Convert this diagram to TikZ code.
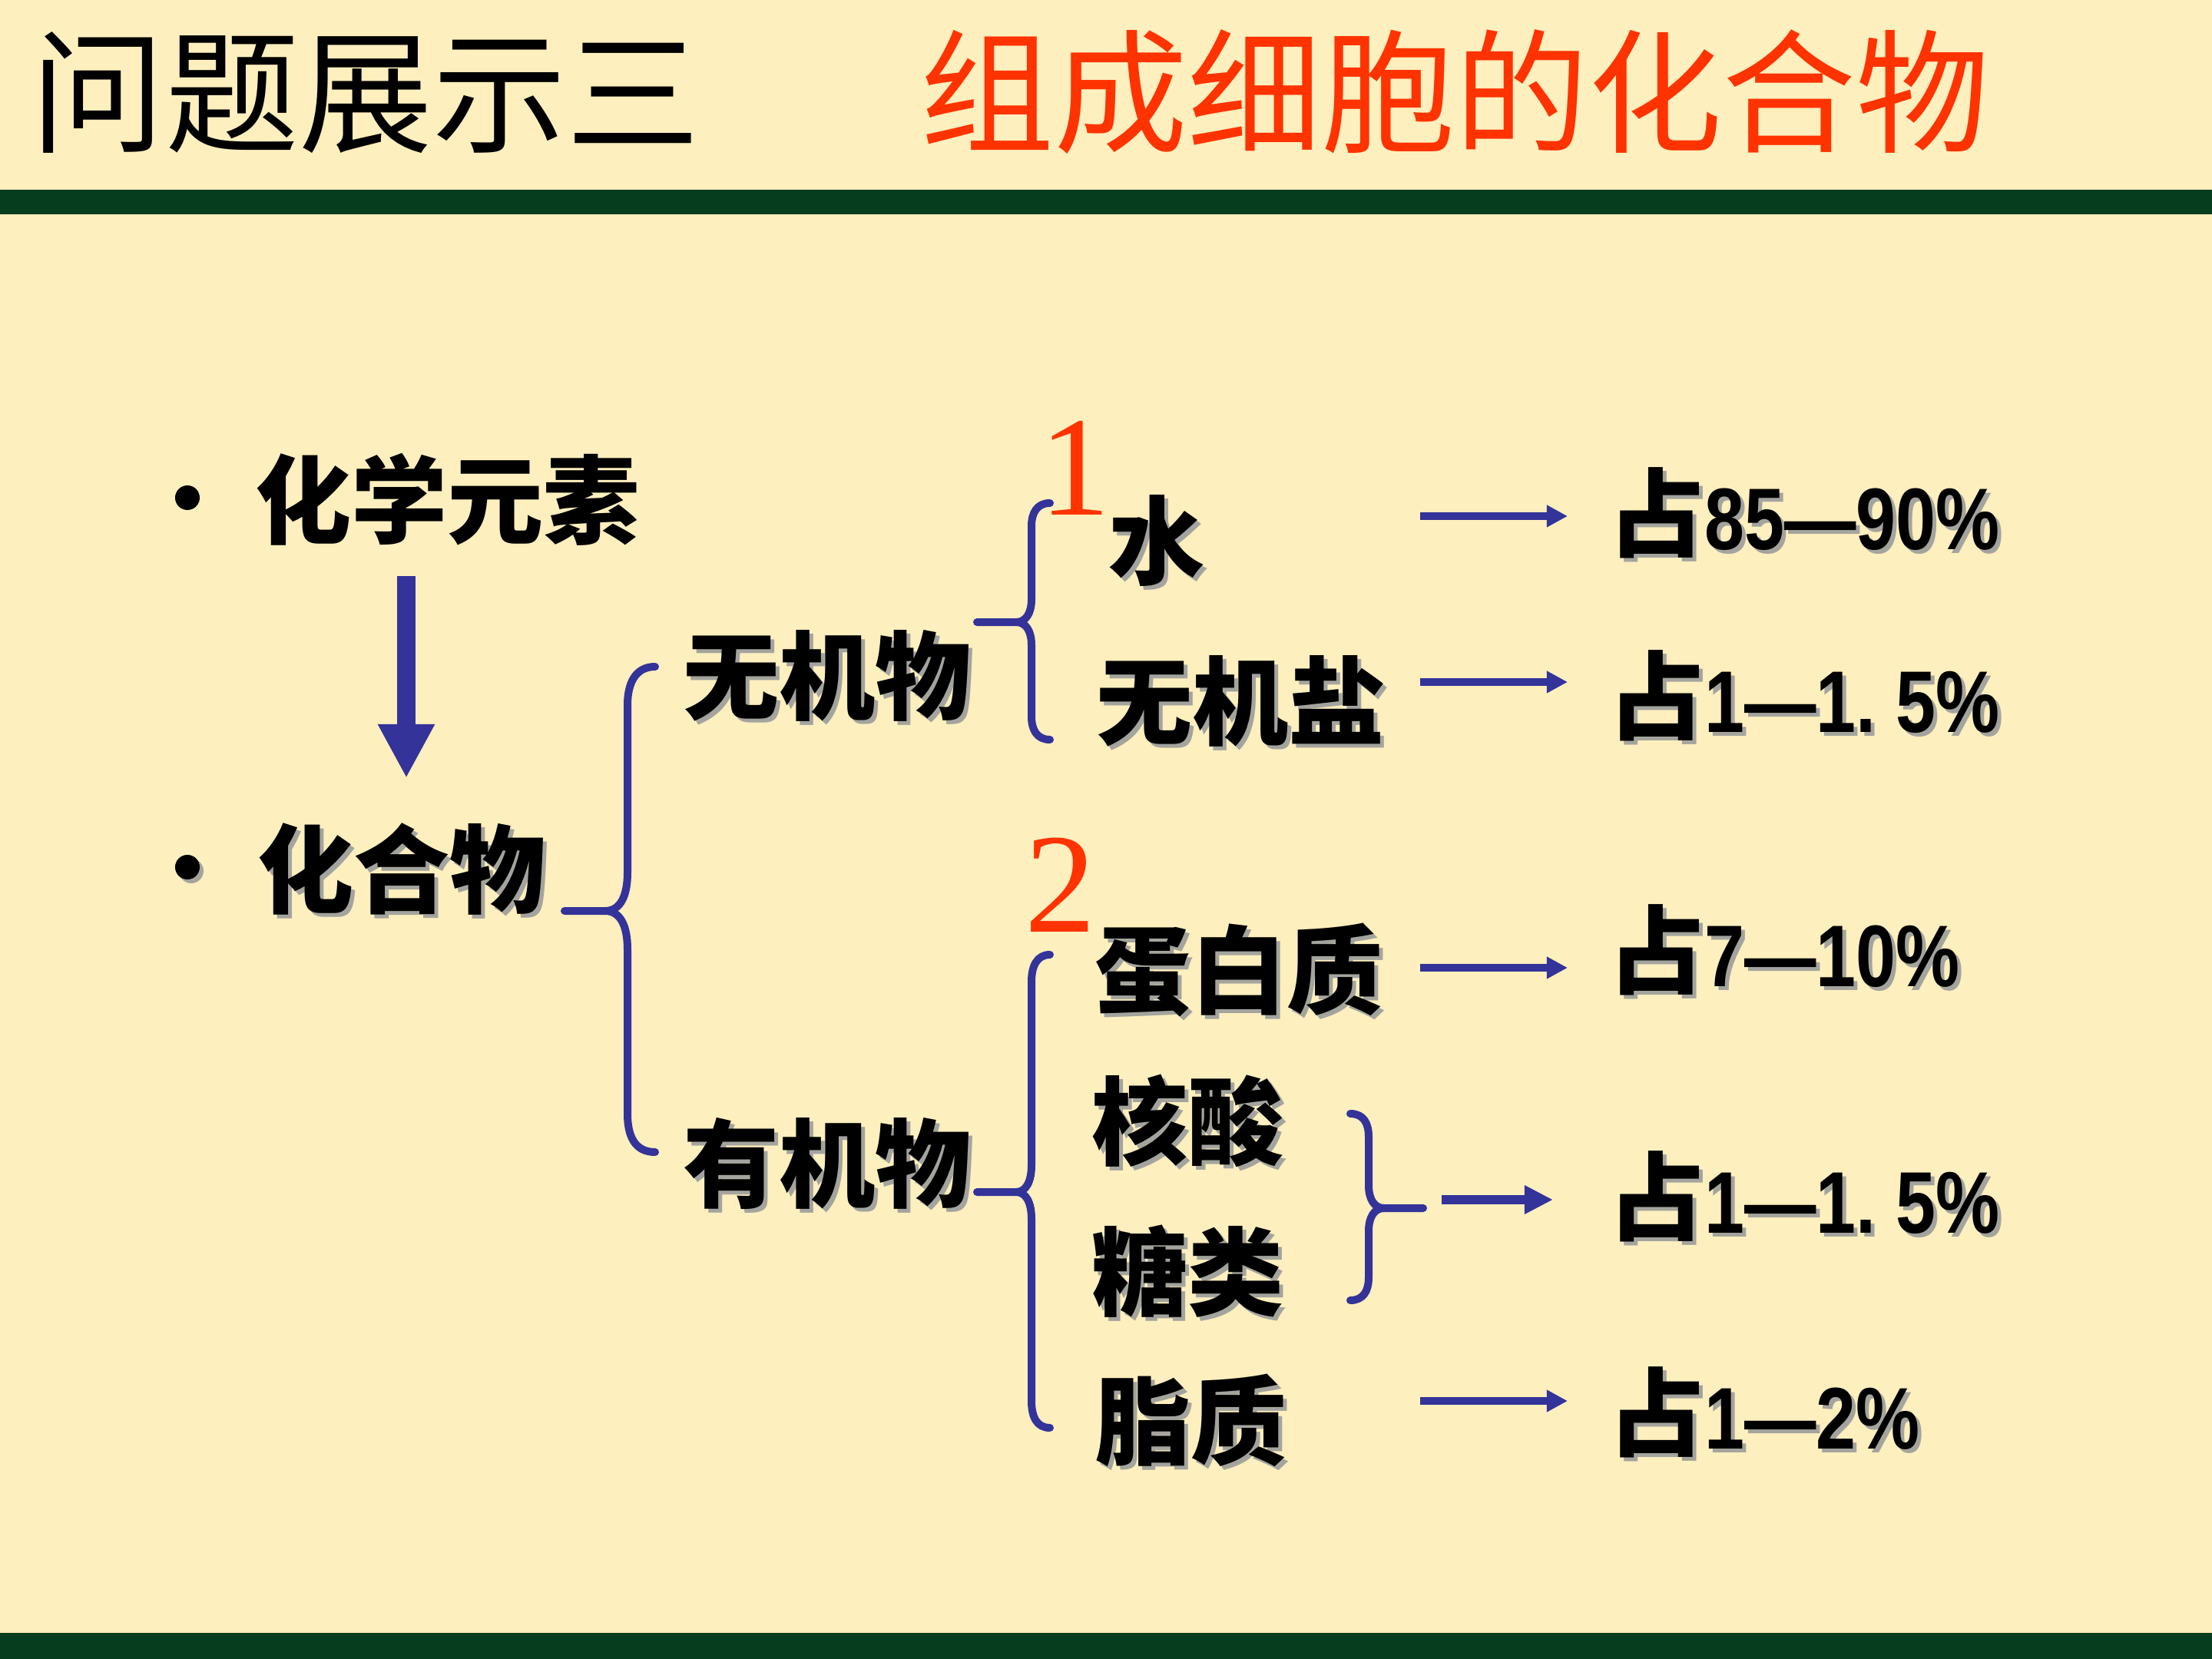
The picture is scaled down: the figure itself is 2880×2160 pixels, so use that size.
\documentclass[tikz,border=0pt]{standalone}
\usepackage{fontspec}
\usepackage{graphicx}
\newfontfamily\cjk{Noto Sans CJK SC}
\newfontfamily\numf{Liberation Sans}
\newfontfamily\serf{Liberation Serif}
\usetikzlibrary{arrows.meta}
\definecolor{bg}{HTML}{FDEFBE}
\definecolor{bar}{HTML}{063D1E}
\definecolor{navy}{HTML}{333399}
\definecolor{tred}{HTML}{FF3300}
\definecolor{shadowc}{HTML}{A4A49E}
\newcommand\shnode[4]{%
  \node[#1,text=shadowc,xshift=0.05cm,yshift=-0.05cm] at #3 {#4};
  \node[#1] (#2) at #3 {#4};}
\newcommand\pct[1]{{\cjk 占}{\numf\fontsize{32.4pt}{36pt}\selectfont\scalebox{0.82}[1]{#1}}}
\begin{document}
\begin{tikzpicture}[x=0.01cm,y=-0.01cm,
  body/.style={inner sep=0pt,outer sep=0pt,anchor=base west,text=black,
    font=\cjk\bfseries\fontsize{35.6pt}{40pt}\selectfont},
  ttl/.style={inner sep=0pt,outer sep=0pt,anchor=base west,
    font=\cjk\fontsize{49.5pt}{54pt}\selectfont},
  num/.style={inner sep=0pt,outer sep=0pt,anchor=base west,text=tred,
    font=\serf\fontsize{52.6pt}{56pt}\selectfont},
  brace/.style={draw=navy,line width=0.1cm,line cap=round,line join=round},
  thinarrow/.style={draw=navy,line width=0.1cm,-{Triangle[length=0.27cm,width=0.27cm]}},
  midarrow/.style={draw=navy,line width=0.12cm,-{Triangle[length=0.37cm,width=0.35cm]}},
  bigarrow/.style={draw=navy,line width=0.23cm,-{Triangle[length=0.7cm,width=0.69cm]}},
  dot/.style={circle,inner sep=0pt,minimum size=0.32cm}]
% background and bars
\fill[bg] (0,0) rectangle (2880,2160);
\useasboundingbox (0,0) rectangle (2880,2160);
\fill[bar] (0,247) rectangle (2880,279);
\fill[bar] (0,2126) rectangle (2880,2160);
% titles
\node[ttl,text=black] (t1) at (41,185) {问题展示三};
\node[ttl,text=tred] (t2) at (1198,185) {组成细胞的化合物};
% left column
\node[dot,fill=black] (b1) at (244,648) {};
\node[body] (elem) at (332,698) {化学元素};
\node[dot,fill=shadowc] at (249,1134) {};
\node[dot,fill=black] (b2) at (244,1129) {};
\shnode{body}{comp}{(335,1179)}{化合物}
\coordinate (va) at (529,750);
\coordinate (vb) at (529,1013);
\draw[bigarrow] (va) -- (vb);
% second column
\shnode{body}{inorg}{(889,927)}{无机物}
\shnode{body}{org}{(889,1562)}{有机物}
% big brace
\draw[brace] (853,868) .. controls (827,868) and (817,890) .. (817,918) -- (817,1136)
  .. controls (817,1166) and (808,1186) .. (788,1186) -- (735,1186);
\draw[brace] (788,1186) .. controls (808,1186) and (817,1206) .. (817,1236) -- (817,1450)
  .. controls (817,1480) and (827,1500) .. (853,1500);
% brace inorganic
\draw[brace] (1367,655) .. controls (1350,655) and (1343,668) .. (1343,685) -- (1343,780)
  .. controls (1343,798) and (1336,810) .. (1323,810) -- (1272,810);
\draw[brace] (1323,810) .. controls (1336,810) and (1343,822) .. (1343,840) -- (1343,933)
  .. controls (1343,950) and (1350,963) .. (1367,963);
% brace organic
\draw[brace] (1367,1243) .. controls (1350,1243) and (1343,1258) .. (1343,1278) -- (1343,1517)
  .. controls (1343,1538) and (1336,1552) .. (1323,1552) -- (1272,1552);
\draw[brace] (1323,1552) .. controls (1336,1552) and (1343,1566) .. (1343,1587) -- (1343,1824)
  .. controls (1343,1845) and (1350,1859) .. (1367,1859);
% small right brace
\draw[brace] (1758,1450) .. controls (1775,1450) and (1782,1462) .. (1782,1480) -- (1782,1543)
  .. controls (1782,1561) and (1789,1573) .. (1802,1573) -- (1853,1573);
\draw[brace] (1802,1573) .. controls (1789,1573) and (1782,1585) .. (1782,1603) -- (1782,1663)
  .. controls (1782,1681) and (1775,1693) .. (1758,1693);
% red numbers
\node[num] (n1) at (1353,670) {1};
\node[num] (n2) at (1334,1213) {2};
% third column
\shnode{body}{water}{(1443,751)}{水}
\shnode{body}{salt}{(1427,960)}{无机盐}
\shnode{body}{prot}{(1425,1310)}{蛋白质}
\shnode{body}{nucl}{(1421,1507)}{核酸}
\shnode{body}{sugar}{(1421,1703)}{糖类}
\shnode{body}{lipid}{(1425,1897)}{脂质}
% percentages
\shnode{body}{p1}{(2094,715)}{\pct{85—90\%}}
\shnode{body}{p2}{(2094,953)}{\pct{1—1.\ 5\%}}
\shnode{body}{p3}{(2094,1284)}{\pct{7—10\%}}
\shnode{body}{p4}{(2094,1605)}{\pct{1—1.\ 5\%}}
\shnode{body}{p5}{(2094,1886)}{\pct{1—2\%}}
% arrows
\coordinate (a1s) at (1849,672); \coordinate (a1e) at (2041,672);
\coordinate (a2s) at (1849,888); \coordinate (a2e) at (2041,888);
\coordinate (a3s) at (1849,1260); \coordinate (a3e) at (2041,1260);
\coordinate (a4s) at (1877,1562); \coordinate (a4e) at (2022,1562);
\coordinate (a5s) at (1849,1824); \coordinate (a5e) at (2041,1824);
\draw[thinarrow] (a1s) -- (a1e);
\draw[thinarrow] (a2s) -- (a2e);
\draw[thinarrow] (a3s) -- (a3e);
\draw[midarrow] (a4s) -- (a4e);
\draw[thinarrow] (a5s) -- (a5e);
\end{tikzpicture}
\end{document}
